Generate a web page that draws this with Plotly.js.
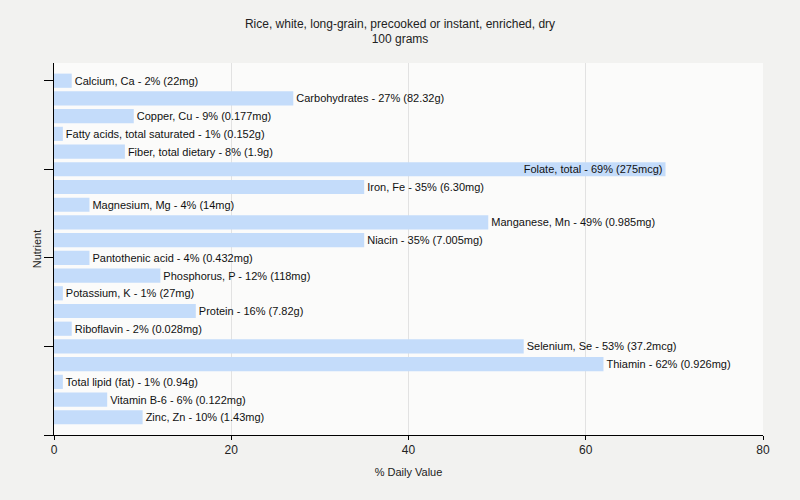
<!DOCTYPE html>
<html>
<head>
<meta charset="utf-8">
<script src="https://cdn.plot.ly/plotly-3.0.1.min.js"></script>
<style>html,body{margin:0;padding:0;background:#f2f2f0;}</style>
</head>
<body>
<div id="chart" style="width:800px;height:500px;"></div>
<script>
const nutrients = ["Calcium, Ca","Carbohydrates","Copper, Cu","Fatty acids, total saturated","Fiber, total dietary","Folate, total","Iron, Fe","Magnesium, Mg","Manganese, Mn","Niacin","Pantothenic acid","Phosphorus, P","Potassium, K","Protein","Riboflavin","Selenium, Se","Thiamin","Total lipid (fat)","Vitamin B-6","Zinc, Zn"];
const dailyValue = [2,27,9,1,8,69,35,4,49,35,4,12,1,16,2,53,62,1,6,10];
const amounts = ["22mg","82.32g","0.177mg","0.152g","1.9g","275mcg","6.30mg","14mg","0.985mg","7.005mg","0.432mg","118mg","27mg","7.82g","0.028mg","37.2mcg","0.926mg","0.94g","0.122mg","1.43mg"];
const xTicks = [0,20,40,60,80];

const labels = nutrients.map((n,i)=> n + " - " + dailyValue[i] + "% (" + amounts[i] + ")");
const positions = nutrients.map((n,i)=> i);
const textPos = dailyValue.map(v => v > 65 ? "inside" : "outside");

const trace = {
  type: "bar",
  orientation: "h",
  x: dailyValue,
  y: positions,
  width: 0.8,
  text: labels,
  textposition: textPos,
  insidetextanchor: "end",
  constraintext: "none",
  cliponaxis: false,
  textfont: {family: "Liberation Sans, Arial, sans-serif", size: 11, color: "#111"},
  marker: {color: "#c4dcfa"},
  hoverinfo: "none"
};

const layout = {
  width: 800, height: 500,
  paper_bgcolor: "#f2f2f0",
  plot_bgcolor: "#fbfbfa",
  margin: {l: 54, r: 37, t: 63, b: 65},
  showlegend: false,
  font: {family: "Liberation Sans, Arial, sans-serif", color: "#222"},
  title: {text: "Rice, white, long-grain, precooked or instant, enriched, dry<br>100 grams", x: 0.5, xanchor: "center", y: 0.945, yanchor: "top", font: {size: 12, color: "#222"}},
  xaxis: {
    range: [0, 80], tickvals: xTicks, ticktext: xTicks.map(String),
    showgrid: true, gridcolor: "#e2e2e2", zeroline: false,
    showline: true, linecolor: "#000", linewidth: 1,
    ticks: "outside", ticklen: 4, tickcolor: "#000",
    tickfont: {size: 12, color: "#222"},
    title: {text: "% Daily Value", font: {size: 11, color: "#222"}, standoff: 11}
  },
  yaxis: {
    range: [20, -1], tickvals: [0,5,10,15,20],
    showticklabels: false,
    showgrid: false, zeroline: false,
    showline: true, linecolor: "#000", linewidth: 1,
    ticks: "outside", ticklen: 9, tickcolor: "#000",
    title: {text: "Nutrient", font: {size: 11, color: "#222"}, standoff: 0}
  }
};

Plotly.newPlot("chart", [trace], layout, {displayModeBar: false, staticPlot: true});
</script>
</body>
</html>
